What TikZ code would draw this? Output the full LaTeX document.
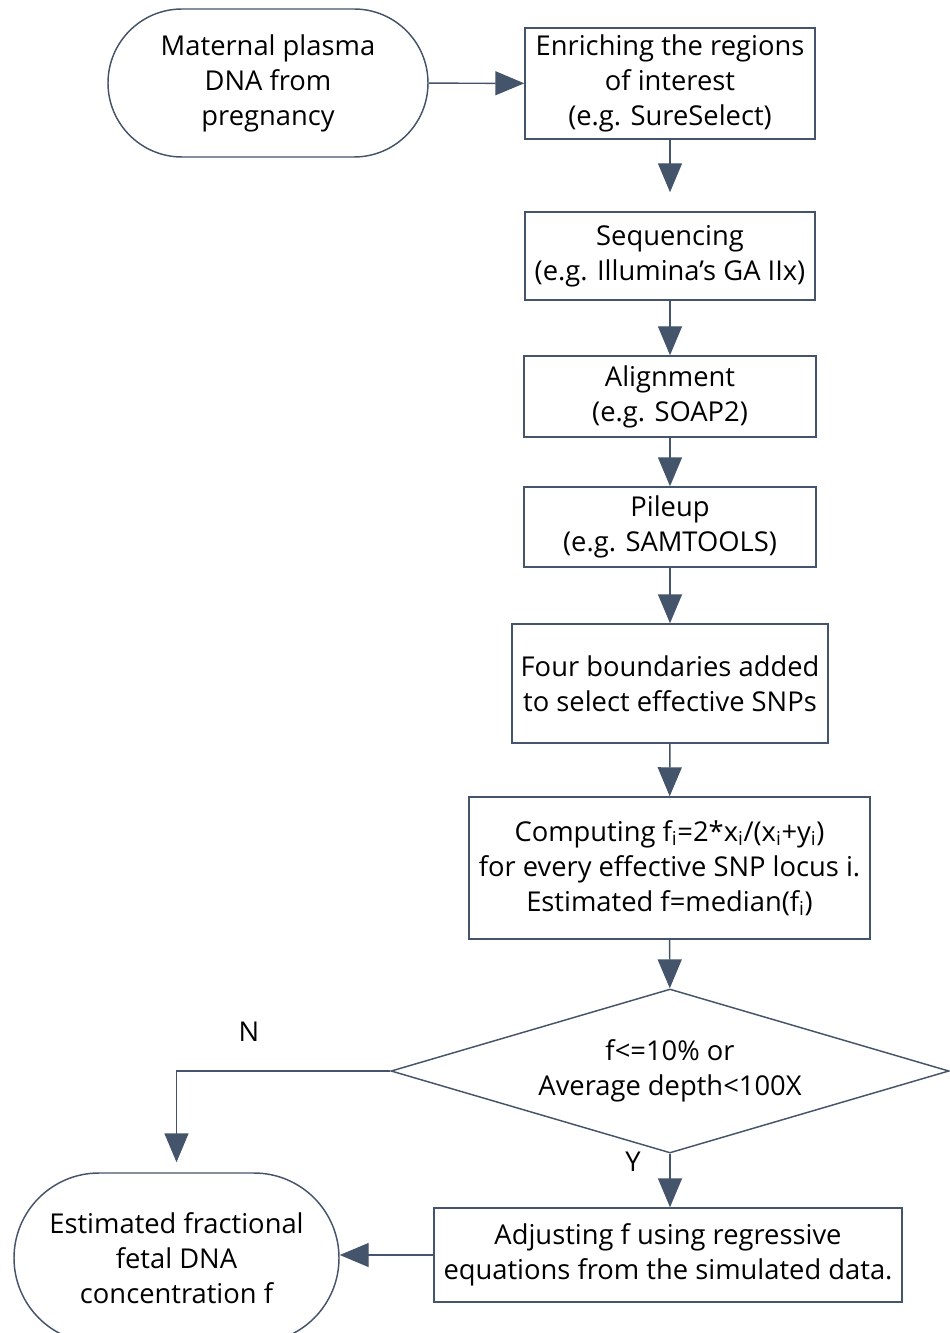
\documentclass[tikz,border=0pt]{standalone}
\usepackage{fontspec}
\setmainfont{Open Sans}
\usetikzlibrary{arrows.meta,shapes.geometric,shapes.misc}

\definecolor{edgeblue}{RGB}{68,84,106}
\newcommand{\flowfont}{\fontsize{20.5}{26.25}\selectfont}
\newcommand{\ix}{\textsubscript{i}}

\tikzset{every picture/.style={line width=1.1pt}}
\tikzset{
  procbox/.style={draw=edgeblue, rectangle, align=center, inner sep=0pt, font=\flowfont},
  termbox/.style={draw=edgeblue, rounded rectangle, align=center, inner sep=0pt, font=\flowfont},
  decbox/.style={draw=edgeblue, diamond, aspect=3.4, align=center, inner sep=0pt, font=\flowfont},
  flowarrow/.style={draw=edgeblue, -{Triangle[length=21.75pt,width=18pt]}},
  flowlabel/.style={inner sep=0pt, font=\flowfont}
}

\begin{document}
\begin{tikzpicture}[x=0.75pt,y=0.75pt,yscale=-1,xscale=1]
\useasboundingbox (0,0) rectangle (949,1333);

%Shape: Terminal
\node [termbox, minimum width={320*0.75pt}, minimum height={148*0.75pt}] (start) at (268,83) {Maternal plasma\\DNA from\\pregnancy};
%Shape: Rectangle
\node [procbox, minimum width={290*0.75pt}, minimum height={111*0.75pt}] (enrich) at (670,83.5) {Enriching the regions\\of interest\\(e.g. SureSelect)};
%Shape: Rectangle
\node [procbox, minimum width={290*0.75pt}, minimum height={88*0.75pt}] (seq) at (670,256) {Sequencing\\(e.g. Illumina’s GA IIx)};
%Shape: Rectangle
\node [procbox, minimum width={292*0.75pt}, minimum height={81*0.75pt}] (align) at (670,396.5) {Alignment\\(e.g. SOAP2)};
%Shape: Rectangle
\node [procbox, minimum width={292*0.75pt}, minimum height={80*0.75pt}] (pile) at (670,527) {Pileup\\(e.g. SAMTOOLS)};
%Shape: Rectangle
\node [procbox, minimum width={316*0.75pt}, minimum height={119*0.75pt}] (bound) at (670,683.5) {Four boundaries added\\to select effective SNPs};
%Shape: Rectangle
\node [procbox, minimum width={401*0.75pt}, minimum height={142*0.75pt}] (comp) at (669.5,868) {Computing f\ix=2*x\ix/(x\ix+y\ix)\\for every effective SNP locus i.\\Estimated f=median(f\ix)};
%Shape: Diamond
\node [decbox, minimum width={558*0.75pt}, minimum height={164*0.75pt}] (dec) at (670,1071) {f<=10\% or\\Average depth<100X};
%Shape: Rectangle
\node [procbox, minimum width={468*0.75pt}, minimum height={94*0.75pt}] (adj) at (668,1255) {Adjusting f using regressive\\equations from the simulated data.};
%Shape: Terminal
\node [termbox, minimum width={325*0.75pt}, minimum height={170*0.75pt}] (fin) at (176.5,1258) {Estimated fractional\\fetal DNA\\concentration f};

% Text Node
\node [flowlabel] (nlab) at (249,1032) {N};
% Text Node
\node [flowlabel] (ylab) at (633,1162) {Y};

%Straight Lines
\draw [flowarrow] (start) -- (enrich);
\draw [flowarrow, shorten >=14.25pt] (enrich) -- (seq);
\draw [flowarrow] (seq) -- (align);
\draw [flowarrow] (align) -- (pile);
\draw [flowarrow] (pile) -- (bound);
\draw [flowarrow] (bound) -- (comp);
\draw [flowarrow] (comp) -- (dec);
\draw [flowarrow] (dec.south) -- (dec.south |- adj.north);
\draw [flowarrow] (adj.west) -- (adj.west -| fin.east);
%Straight Lines
\draw [flowarrow, shorten >=7.5pt] (dec.west) -| (fin.north);

\end{tikzpicture}
\end{document}
